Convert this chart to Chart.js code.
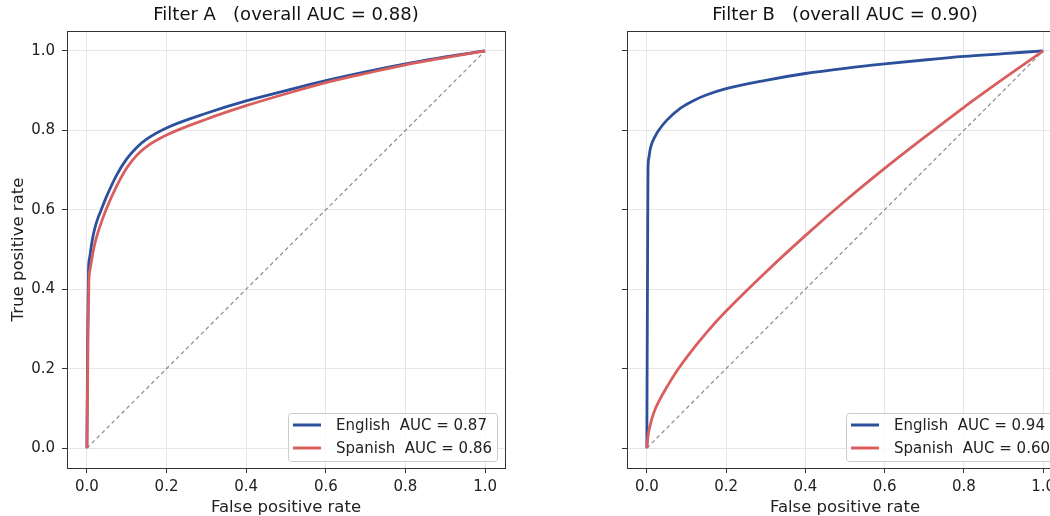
<!DOCTYPE html>
<html>
<head>
<meta charset="utf-8">
<script src="https://cdn.jsdelivr.net/npm/chart.js@4.4.0/dist/chart.umd.min.js"></script>
<style>
    html, body { margin: 0; padding: 0; background: #fff; overflow: hidden; width: 1050px; height: 516px; }
    canvas { position: absolute; top: 0; }
    #chartA { left: 0; }
    #chartB { left: 560px; }
</style>
</head>
<body>
<canvas id="chartA" width="560" height="516"></canvas>
<canvas id="chartB" width="510" height="516"></canvas>
<script>
// ROC curves (false positive rate / true positive rate)
const tickValues = [0, 0.2, 0.4, 0.6, 0.8, 1.0];

// Filter A
const enFprA = [0, 0.002, 0.004, 0.007, 0.012, 0.019, 0.027, 0.036, 0.05, 0.075, 0.1, 0.125, 0.15, 0.2, 0.3, 0.4, 0.5, 0.6, 0.7, 0.8, 0.9, 1.0];
const enTprA = [0, 0.30, 0.45, 0.48, 0.515, 0.55, 0.577, 0.60, 0.635, 0.688, 0.728, 0.757, 0.778, 0.806, 0.843, 0.874, 0.90, 0.925, 0.947, 0.967, 0.985, 1.0];
const esFprA = [0, 0.003, 0.005, 0.008, 0.013, 0.02, 0.03, 0.048, 0.075, 0.1, 0.125, 0.15, 0.2, 0.3, 0.4, 0.5, 0.6, 0.7, 0.8, 0.9, 1.0];
const esTprA = [0, 0.30, 0.42, 0.45, 0.48, 0.515, 0.55, 0.60, 0.66, 0.705, 0.737, 0.759, 0.788, 0.828, 0.862, 0.892, 0.92, 0.943, 0.965, 0.983, 1.0];

// Filter B
const enFprB = [0, 0.002, 0.003, 0.005, 0.008, 0.012, 0.02, 0.03, 0.05, 0.085, 0.12, 0.15, 0.2, 0.3, 0.4, 0.5, 0.6, 0.7, 0.8, 0.9, 1.0];
const enTprB = [0, 0.50, 0.70, 0.73, 0.75, 0.765, 0.783, 0.80, 0.825, 0.856, 0.876, 0.889, 0.905, 0.926, 0.943, 0.956, 0.967, 0.977, 0.986, 0.993, 1.0];
const esFprB = [0, 0.003, 0.008, 0.018, 0.033, 0.05, 0.077, 0.1, 0.15, 0.2, 0.3, 0.4, 0.5, 0.6, 0.7, 0.8, 0.9, 1.0];
const esTprB = [0, 0.03, 0.056, 0.09, 0.123, 0.153, 0.196, 0.228, 0.29, 0.345, 0.443, 0.535, 0.622, 0.704, 0.782, 0.858, 0.93, 1.0];

// chance line
const diagX = [0, 1];
const diagY = [0, 1];

const BLUE = '#2c509b';
const RED = '#d95f5e';

Chart.defaults.font.family = "'DejaVu Sans', sans-serif";
Chart.defaults.color = '#222';

function toPoints(xs, ys) {
    return xs.map((x, i) => ({ x: x, y: ys[i] }));
}

// matplotlib-like frame around the plot area
const framePlugin = {
    id: 'frame',
    afterDatasetsDraw(chart) {
        const a = chart.chartArea;
        const ctx = chart.ctx;
        ctx.save();
        ctx.strokeStyle = '#333';
        ctx.lineWidth = 1;
        ctx.strokeRect(Math.round(a.left) + 0.5, Math.round(a.top) + 0.5,
            Math.round(a.right - a.left), Math.round(a.bottom - a.top));
        ctx.restore();
    }
};

// legend box in the lower right corner of the plot area
const innerLegendPlugin = {
    id: 'innerLegend',
    afterDraw(chart) {
        const a = chart.chartArea;
        const ctx = chart.ctx;
        const items = chart.data.datasets.filter(d => d.inLegend);
        ctx.save();
        ctx.font = "15px 'DejaVu Sans', sans-serif";
        const textW = Math.max(...items.map(d => ctx.measureText(d.label).width));
        const w = 48 + textW + 5;
        const h = 48;
        const x = a.right - 8 - w;
        const y = a.bottom - 7 - h;
        ctx.beginPath();
        ctx.roundRect(x + 0.5, y + 0.5, w, h, 3);
        ctx.fillStyle = 'rgba(255,255,255,0.8)';
        ctx.fill();
        ctx.strokeStyle = '#cccccc';
        ctx.lineWidth = 1;
        ctx.stroke();
        items.forEach((d, i) => {
            const cy = y + 12 + i * 23;
            ctx.beginPath();
            ctx.moveTo(x + 5, cy);
            ctx.lineTo(x + 33, cy);
            ctx.strokeStyle = d.borderColor;
            ctx.lineWidth = 3;
            ctx.stroke();
            ctx.fillStyle = '#222';
            ctx.textBaseline = 'middle';
            ctx.fillText(d.label, x + 48, cy + 1);
        });
        ctx.restore();
    }
};

function buildChart(canvasId, title, en, es, enLabel, esLabel, showYLabels, padRight) {
    const ctx = document.getElementById(canvasId);
    return new Chart(ctx, {
        type: 'line',
        data: {
            datasets: [
                {
                    label: 'chance',
                    data: toPoints(diagX, diagY),
                    borderColor: '#8c8c8c',
                    borderWidth: 1.2,
                    borderDash: [4, 3],
                    pointRadius: 0,
                    order: 3
                },
                {
                    label: enLabel,
                    inLegend: true,
                    data: toPoints(en[0], en[1]),
                    borderColor: BLUE,
                    borderWidth: 2.8,
                    pointRadius: 0,
                    cubicInterpolationMode: 'monotone',
                    order: 2
                },
                {
                    label: esLabel,
                    inLegend: true,
                    data: toPoints(es[0], es[1]),
                    borderColor: RED,
                    borderWidth: 2.8,
                    pointRadius: 0,
                    cubicInterpolationMode: 'monotone',
                    order: 1
                }
            ]
        },
        options: {
            responsive: false,
            animation: false,
            layout: {
                padding: { left: 0, right: padRight, top: 0, bottom: 0 }
            },
            plugins: {
                legend: { display: false },
                tooltip: { enabled: false },
                title: {
                    display: true,
                    fullSize: false,
                    text: title,
                    color: '#111',
                    font: { size: 18, weight: 'normal', lineHeight: 1.2 },
                    padding: { top: 5, bottom: 4.4 }
                }
            },
            scales: {
                x: {
                    type: 'linear',
                    min: -0.05,
                    max: 1.05,
                    afterBuildTicks: scale => { scale.ticks = tickValues.map(v => ({ value: v })); },
                    afterFit: scale => { scale.height = 48; },
                    grid: { color: '#e6e6e6', tickColor: '#333', tickLength: 5 },
                    border: { display: false },
                    ticks: {
                        padding: 5,
                        font: { size: 15 },
                        maxRotation: 0,
                        callback: v => v.toFixed(1)
                    },
                    title: {
                        display: true,
                        text: 'False positive rate',
                        font: { size: 16.5, lineHeight: 1.0 },
                        padding: { top: 0, bottom: 0 }
                    }
                },
                y: {
                    type: 'linear',
                    min: -0.05,
                    max: 1.05,
                    afterBuildTicks: scale => { scale.ticks = tickValues.map(v => ({ value: v })); },
                    afterFit: scale => { scale.width = 67; },
                    grid: { color: '#e6e6e6', tickColor: '#333', tickLength: 5 },
                    border: { display: false },
                    ticks: {
                        padding: 7,
                        font: { size: 15 },
                        callback: v => showYLabels ? v.toFixed(1) : ''
                    },
                    title: {
                        display: showYLabels,
                        text: 'True positive rate',
                        font: { size: 16.5, lineHeight: 1.0 },
                        padding: { top: 10, bottom: 0 }
                    }
                }
            }
        },
        plugins: [framePlugin, innerLegendPlugin]
    });
}

buildChart('chartA', 'Filter A   (overall AUC = 0.88)',
    [enFprA, enTprA], [esFprA, esTprA],
    'English  AUC = 0.87', 'Spanish  AUC = 0.86', true, 55);

buildChart('chartB', 'Filter B   (overall AUC = 0.90)',
    [enFprB, enTprB], [esFprB, esTprB],
    'English  AUC = 0.94', 'Spanish  AUC = 0.60', false, 7);
</script>
</body>
</html>
